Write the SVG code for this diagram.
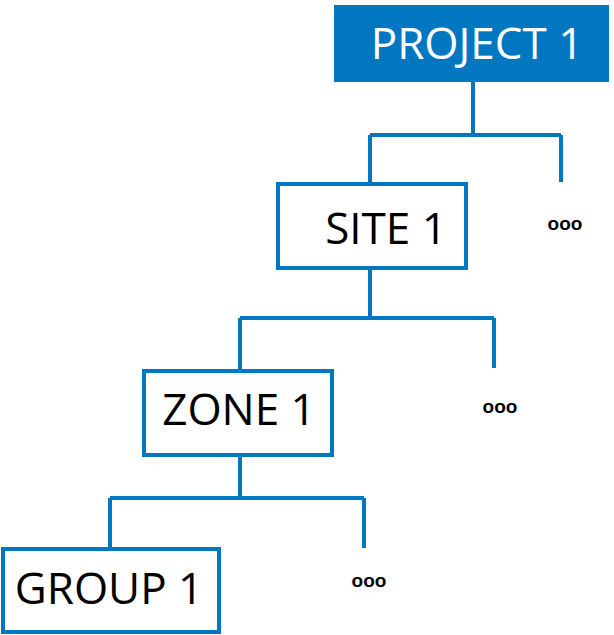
<svg xmlns="http://www.w3.org/2000/svg" width="614" height="635" viewBox="0 0 614 635">
<style>
.box{fill:#fff;stroke:#0077c0;stroke-width:4}
.lbl{font-family:"Open Sans","Liberation Sans",sans-serif;font-size:44px;fill:#000;text-anchor:middle}
.dots{font-family:"Liberation Sans",sans-serif;font-size:19px;font-weight:bold;fill:#000;text-anchor:middle}
.c{fill:none;stroke:#0077c0;stroke-width:4}
</style>
<rect width="614" height="635" fill="#fff"/>
<g id="connectors">
<path class="c" d="M473 82V135M370 135H561M370 135V183M561 135V182"/>
<path class="c" d="M370 268V318M240 318H494M240 318V370M494 318V368"/>
<path class="c" d="M240 455V498M110 498H364M110 498V548M364 498V548"/>
</g>
<g id="project1"><rect x="334" y="5" width="275" height="77" fill="#0077c0"/><text class="lbl" x="477" y="59" style="fill:#fff">PROJECT 1</text></g>
<g id="site1"><rect class="box" x="278" y="184" width="188" height="84"/><text class="lbl" x="386" y="244">SITE 1</text></g>
<g id="zone1"><rect class="box" x="144" y="371" width="188" height="84"/><text class="lbl" x="239" y="425">ZONE 1</text></g>
<g id="group1"><rect class="box" x="3" y="549" width="216" height="83"/><text class="lbl" x="109" y="604">GROUP 1</text></g>
<g id="dots">
<text class="dots" x="565" y="230">ooo</text>
<text class="dots" x="500" y="413">ooo</text>
<text class="dots" x="369" y="587">ooo</text>
</g>
</svg>
